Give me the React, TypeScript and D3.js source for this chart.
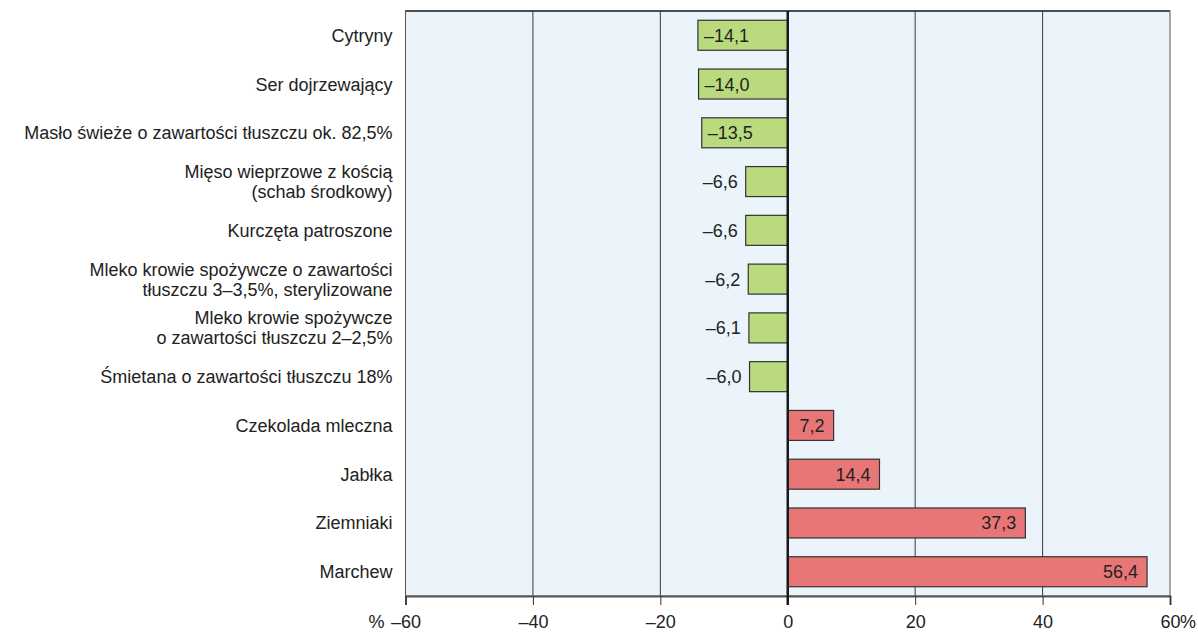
import React, { useEffect, useRef } from 'react';
import * as d3 from 'd3';

// Categories (top to bottom), each label split into lines
const categories: string[][] = [
  ['Cytryny'],
  ['Ser dojrzewający'],
  ['Masło świeże o zawartości tłuszczu ok. 82,5%'],
  ['Mięso wieprzowe z kością', '(schab środkowy)'],
  ['Kurczęta patroszone'],
  ['Mleko krowie spożywcze o zawartości', 'tłuszczu 3–3,5%, sterylizowane'],
  ['Mleko krowie spożywcze', 'o zawartości tłuszczu 2–2,5%'],
  ['Śmietana o zawartości tłuszczu 18%'],
  ['Czekolada mleczna'],
  ['Jabłka'],
  ['Ziemniaki'],
  ['Marchew'],
];

const values: number[] = [-14.1, -14.0, -13.5, -6.6, -6.6, -6.2, -6.1, -6.0, 7.2, 14.4, 37.3, 56.4];

const xTicks: number[] = [-60, -40, -20, 0, 20, 40, 60];

const fmt = (v: number) => (v < 0 ? '–' : '') + Math.abs(v).toFixed(1).replace('.', ',');

const App: React.FC = () => {
  const svgRef = useRef<SVGSVGElement>(null);

  useEffect(() => {
    document.body.style.margin = '0';
    if (!svgRef.current) return;
    const svg = d3.select(svgRef.current);
    svg.selectAll('*').remove();

    const width = 1198;
    const height = 633;
    const margin = { top: 11, right: 28, bottom: 37, left: 405.5 };
    const innerW = width - margin.left - margin.right;
    const innerH = height - margin.top - margin.bottom;

    const x = d3.scaleLinear().domain([-60, 60]).range([0, innerW]);
    const y = d3.scaleBand<number>()
      .domain(d3.range(categories.length))
      .range([0, innerH])
      .paddingInner(0.385)
      .paddingOuter(0.19);

    const font = '"Liberation Sans", Arial, sans-serif';
    const fs = '18px';
    const g = svg.append('g').attr('transform', `translate(${margin.left},${margin.top})`);

    // plot background
    g.append('rect')
      .attr('width', innerW)
      .attr('height', innerH)
      .attr('fill', '#ebf4fb')
      .attr('stroke', '#555')
      .attr('stroke-width', 1);

    // gridlines
    g.selectAll('.grid')
      .data(xTicks.filter(t => t !== 0 && Math.abs(t) !== 60))
      .enter()
      .append('line')
      .attr('x1', d => x(d))
      .attr('x2', d => x(d))
      .attr('y1', 0)
      .attr('y2', innerH)
      .attr('stroke', '#3a3a3a')
      .attr('stroke-width', 1);

    // top border darker
    g.append('line')
      .attr('x1', 0).attr('x2', innerW)
      .attr('y1', 0).attr('y2', 0)
      .attr('stroke', '#333').attr('stroke-width', 1.5);

    // x axis
    const axis = d3.axisBottom(x)
      .tickValues(xTicks)
      .tickSize(9)
      .tickFormat(d => {
        const v = +d;
        return (v < 0 ? '–' : '') + Math.abs(v);
      });
    const ax = g.append('g')
      .attr('transform', `translate(0,${innerH})`)
      .call(axis);
    ax.select('.domain').attr('stroke', '#555').attr('stroke-width', 2);
    ax.selectAll('.tick line').attr('stroke', '#333').attr('stroke-width', 1);
    ax.selectAll('.tick text')
      .attr('y', 32)
      .attr('dy', null)
      .attr('fill', '#222')
      .style('font-family', font)
      .style('font-size', fs);

    g.append('text')
      .attr('x', x(-60) - 21)
      .attr('y', innerH + 32)
      .attr('text-anchor', 'end')
      .attr('fill', '#222')
      .style('font-family', font)
      .style('font-size', fs)
      .text('%');
    g.append('text')
      .attr('x', x(60) + 10)
      .attr('y', innerH + 32)
      .attr('text-anchor', 'start')
      .attr('fill', '#222')
      .style('font-family', font)
      .style('font-size', fs)
      .text('%');

    // bars
    const data = values.map((v, i) => ({ v, i }));
    g.selectAll('.bar')
      .data(data)
      .enter()
      .append('rect')
      .attr('x', d => x(Math.min(0, d.v)))
      .attr('y', d => y(d.i)!)
      .attr('width', d => Math.abs(x(d.v) - x(0)))
      .attr('height', y.bandwidth())
      .attr('fill', d => (d.v < 0 ? '#badb7d' : '#e87676'))
      .attr('stroke', '#333')
      .attr('stroke-width', 1.2);

    // zero line
    g.append('line')
      .attr('x1', x(0)).attr('x2', x(0))
      .attr('y1', 0).attr('y2', innerH + 9)
      .attr('stroke', '#1a1a1a')
      .attr('stroke-width', 2.5);

    // value labels
    g.selectAll('.val')
      .data(data)
      .enter()
      .append('text')
      .attr('x', d => {
        if (d.v > 0) return x(d.v) - 9;
        if (d.v <= -10) return x(d.v) + 6;
        return x(d.v) - 8;
      })
      .attr('y', d => y(d.i)! + y.bandwidth() / 2)
      .attr('dy', '0.36em')
      .attr('text-anchor', d => (d.v > 0 || d.v > -10 ? 'end' : 'start'))
      .attr('fill', '#222')
      .style('font-family', font)
      .style('font-size', fs)
      .text(d => fmt(d.v));

    // category labels
    const labels = svg.append('g');
    categories.forEach((lines, i) => {
      const cy = margin.top + y(i)! + y.bandwidth() / 2;
      const lh = 20;
      const t = labels.append('text')
        .attr('x', margin.left - 13)
        .attr('text-anchor', 'end')
        .attr('fill', '#222')
        .style('font-family', font)
        .style('font-size', fs);
      lines.forEach((ln, k) => {
        t.append('tspan')
          .attr('x', margin.left - 13)
          .attr('y', cy + (k - (lines.length - 1) / 2) * lh)
          .attr('dy', '0.36em')
          .text(ln);
      });
    });
  }, []);

  return <svg ref={svgRef} width={1198} height={633} style={{ display: 'block' }} />;
};

export default App;
